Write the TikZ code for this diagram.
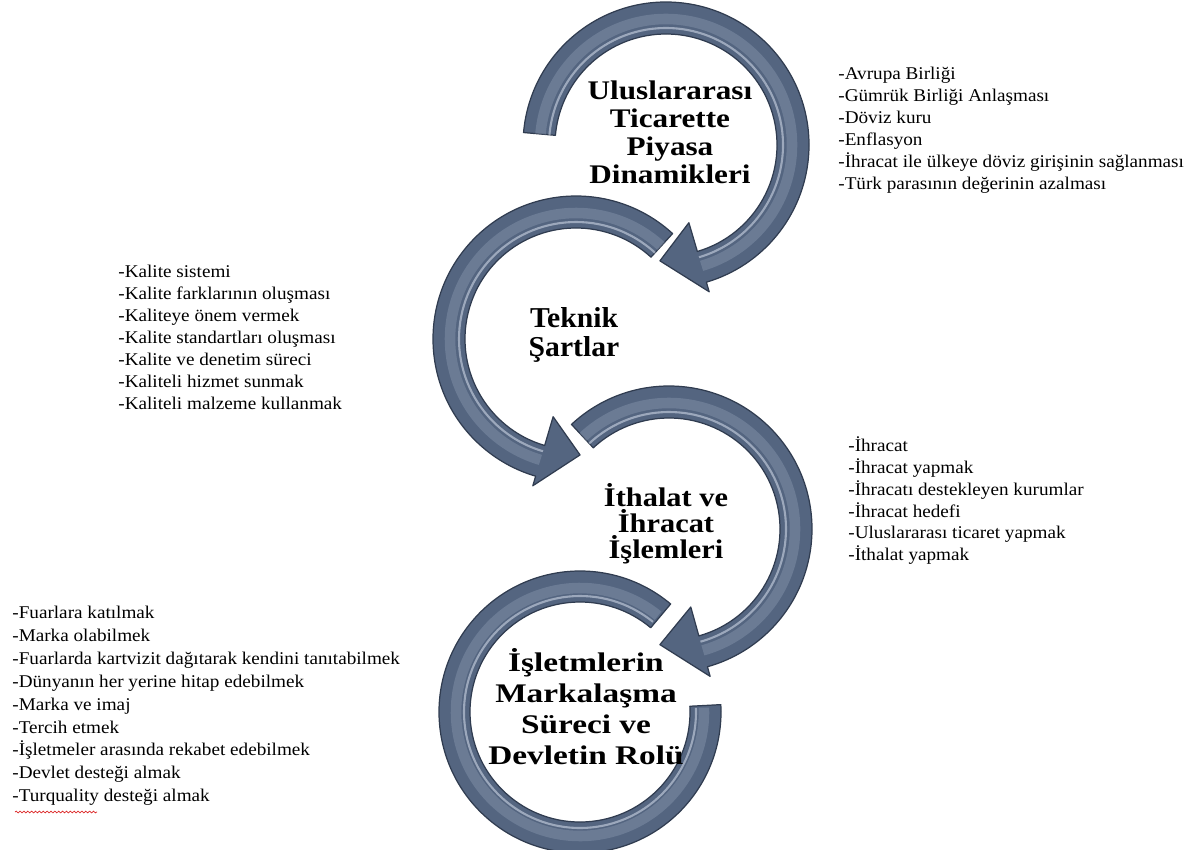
\documentclass[tikz,border=0pt]{standalone}
\usepackage{fontspec}
\setmainfont{Liberation Serif}
\usepackage{tikz}
\usetikzlibrary{calc,decorations.pathmorphing}

\definecolor{ringblue}{RGB}{84,101,128}
\definecolor{ringdark}{RGB}{48,60,80}
\definecolor{ringlight}{RGB}{150,165,188}
\definecolor{ringshine}{RGB}{205,214,228}
\definecolor{spellred}{RGB}{220,40,40}

\tikzset{
  arrowbody/.style={fill=ringblue, draw=ringdark, line width=0.7pt, line join=round},
  arrowshine/.style={draw=ringlight, line width=6pt, opacity=0.35, line cap=butt},
  arrowgloss/.style={draw=ringshine, line width=1.2pt, opacity=0.6, line cap=butt},
  titletext/.style={align=center, inner sep=0pt},
  listtext/.style={font=\fontsize{10.2}{12.5}\selectfont, align=left, anchor=north west, inner sep=0pt, xscale=1.07},
}

% ring arrow: centre, start angle, end angle, tip angle
\newcommand{\cycarrow}[4]{%
  \filldraw[arrowbody] ($(#1)+(#2:143)$) arc[start angle=#2, end angle=#3, radius=143]
    -- ($(#1)+(#3:153)$) -- ($(#1)+(#4:116)$) -- ($(#1)+(#3:81)$)
    -- ($(#1)+(#3:111)$) arc[start angle=#3, end angle=#2, radius=111] -- cycle;
  \draw[arrowshine] ($(#1)+(#2:126)$) arc[start angle=#2, end angle=#3, radius=126];
  \draw[arrowgloss] ($(#1)+(#2:117)$) arc[start angle=#2, end angle=#3, radius=117];
}

\begin{document}
\begin{tikzpicture}[x=0.02cm, y=-0.02cm]
  \useasboundingbox (0,0) rectangle (1204,849);

  \coordinate (c1) at (666,145);
  \coordinate (c2) at (576,339);
  \coordinate (c3) at (669,529);
  \coordinate (c4) at (580,712);

  % bottom ring
  \filldraw[arrowbody] ($(c4)+(-50:141)$) arc[start angle=-50, end angle=-363, radius=141]
    -- ($(c4)+(-363:110)$) arc[start angle=-363, end angle=-50, radius=110] -- cycle;
  \draw[arrowshine] ($(c4)+(-51:124)$) arc[start angle=-51, end angle=-362, radius=124];
  \draw[arrowgloss] ($(c4)+(-51:116)$) arc[start angle=-51, end angle=-362, radius=116];

  \cycarrow{c3}{-133}{74.4}{94.5}
  \cycarrow{c2}{-47.5}{-253.6}{-272}
  \cycarrow{c1}{185}{433.6}{453}

  % titles
  \node[titletext, font=\bfseries\fontsize{15.3}{16}\selectfont, xscale=1.16] (t1) at (670,132)
    {Uluslararası\\Ticarette\\Piyasa\\Dinamikleri};
  \node[titletext, font=\bfseries\fontsize{16.4}{17}\selectfont, xscale=1.03] (t2) at (574,335)
    {Teknik\\Şartlar};
  \node[titletext, font=\bfseries\fontsize{15.3}{14.7}\selectfont, xscale=1.13] (t3) at (666,524)
    {İthalat ve\\İhracat\\İşlemleri};
  \node[titletext, font=\bfseries\fontsize{15.3}{17.6}\selectfont, xscale=1.24] (t4) at (586,707)
    {İşletmlerin\\Markalaşma\\Süreci ve\\Devletin Rolü};

  % lists
  \node[listtext] (l1) at (838,67)
    {-Avrupa Birliği\\-Gümrük Birliği Anlaşması\\-Döviz kuru\\-Enflasyon\\
     -İhracat ile ülkeye döviz girişinin sağlanması\\-Türk parasının değerinin azalması};
  \node[listtext] (l2) at (118,265)
    {-Kalite sistemi\\-Kalite farklarının oluşması\\-Kaliteye önem vermek\\
     -Kalite standartları oluşması\\-Kalite ve denetim süreci\\-Kaliteli hizmet sunmak\\
     -Kaliteli malzeme kullanmak};
  \node[listtext] (l3) at (848,436)
    {-İhracat\\-İhracat yapmak\\-İhracatı destekleyen kurumlar\\-İhracat hedefi\\
     -Uluslararası ticaret yapmak\\-İthalat yapmak};
  \node[listtext, font=\fontsize{10.2}{13}\selectfont] (l4) at (12,606)
    {-Fuarlara katılmak\\-Marka olabilmek\\-Fuarlarda kartvizit dağıtarak kendini tanıtabilmek\\
     -Dünyanın her yerine hitap edebilmek\\-Marka ve imaj\\-Tercih etmek\\
     -İşletmeler arasında rekabet edebilmek\\-Devlet desteği almak\\-Turquality desteği almak};

  \draw[spellred, decorate, decoration={snake, amplitude=0.5pt, segment length=2.2pt}]
    (15,812) -- (97,812);
\end{tikzpicture}
\end{document}
